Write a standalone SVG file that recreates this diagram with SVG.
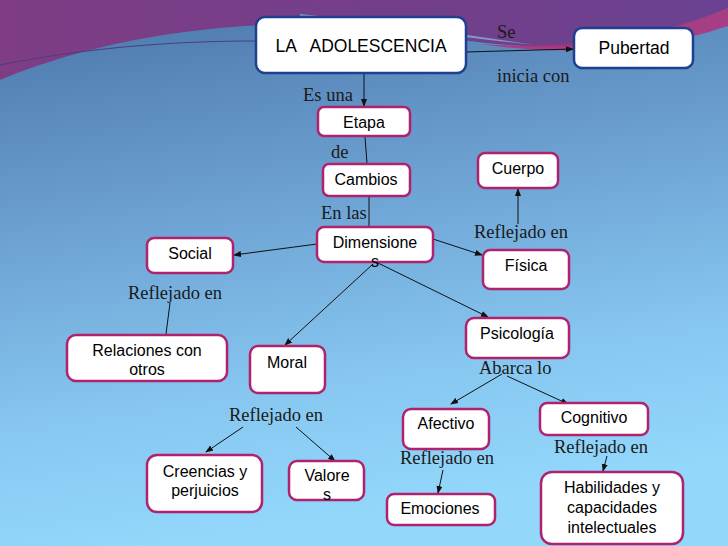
<svg xmlns="http://www.w3.org/2000/svg" width="728" height="546" viewBox="0 0 728 546">
<defs>
<linearGradient id="bg" x1="0" y1="0" x2="0.2" y2="1">
<stop offset="0" stop-color="#4a74a8"/>
<stop offset="0.4" stop-color="#6b9fd0"/>
<stop offset="0.75" stop-color="#86c6f0"/>
<stop offset="1" stop-color="#93d7fb"/>
</linearGradient>
<linearGradient id="top" x1="0" y1="0" x2="1" y2="0">
<stop offset="0" stop-color="#7e3d85"/>
<stop offset="0.6" stop-color="#723f8a"/>
<stop offset="1" stop-color="#6a4291"/>
</linearGradient>
<marker id="ah" markerWidth="8" markerHeight="8" refX="7" refY="4" orient="auto" markerUnits="userSpaceOnUse">
<path d="M0,1 L8,4 L0,7 Z" fill="#111"/>
</marker>
<style>
.n rect{fill:#fff;stroke:#b1226e;stroke-width:2.5}
.b rect{stroke:#1f3f8f}
.t{font-family:"Liberation Sans",Arial,sans-serif;font-size:16px;fill:#000;text-anchor:middle}
.l{font-family:"Liberation Serif","Times New Roman",serif;font-size:18.5px;fill:#1a1a1a}
.c line{stroke:#111;stroke-width:1}
</style>
</defs>
<rect width="728" height="546" fill="url(#bg)"/>
<path d="M0,0 H728 V8 C690,25 620,45 560,47 C480,48 420,30 330,25 C250,22 120,30 0,80 Z" fill="url(#top)"/>
<path d="M300,14 C380,22 460,34 535,45 C470,38 390,28 300,18 Z" fill="#7fb0dc" opacity="0.8"/>
<path d="M480,44 C560,50 650,40 728,8 V26 C650,52 560,56 480,44 Z" fill="#b3307a" opacity="0.85"/>
<path d="M0,65 C100,45 190,41 256,41" fill="none" stroke="#4a3d80" stroke-width="1"/>
<g class="c">
<line x1="466" y1="52" x2="573" y2="49" marker-end="url(#ah)"/>
<line x1="364" y1="73" x2="364" y2="106" marker-end="url(#ah)"/>
<line x1="365" y1="137" x2="367" y2="163" stroke="#8a2a6a"/>
<line x1="369" y1="197" x2="369" y2="227"/>
<line x1="317" y1="244" x2="234" y2="255" marker-end="url(#ah)"/>
<line x1="433" y1="239" x2="482" y2="255" marker-end="url(#ah)"/>
<line x1="518" y1="224" x2="518" y2="189" marker-end="url(#ah)"/>
<line x1="373" y1="264" x2="285" y2="345" marker-end="url(#ah)"/>
<line x1="378" y1="263" x2="488" y2="317" marker-end="url(#ah)"/>
<line x1="170" y1="303" x2="166" y2="334"/>
<line x1="502" y1="374" x2="451" y2="404" marker-end="url(#ah)"/>
<line x1="507" y1="376" x2="568" y2="404" marker-end="url(#ah)"/>
<line x1="243" y1="427" x2="206" y2="452" marker-end="url(#ah)"/>
<line x1="296" y1="427" x2="335" y2="461" marker-end="url(#ah)"/>
<line x1="443" y1="470" x2="438" y2="493" marker-end="url(#ah)"/>
<line x1="607" y1="456" x2="603" y2="471" marker-end="url(#ah)"/>
</g>
<g id="adolescencia" class="n b"><rect x="256" y="17" width="210" height="56" rx="9"/><text class="t" x="361" y="52" style="font-size:17.5px" xml:space="preserve">LA   ADOLESCENCIA</text></g>
<g id="pubertad" class="n b"><rect x="574" y="28" width="119" height="40" rx="8"/><text class="t" x="634" y="54" style="font-size:17.5px">Pubertad</text></g>
<g id="etapa" class="n"><rect x="318" y="107" width="92" height="29" rx="6"/><text class="t" x="364" y="128">Etapa</text></g>
<g id="cambios" class="n"><rect x="323" y="164" width="87" height="32" rx="6"/><text class="t" x="366" y="185">Cambios</text></g>
<g id="dimensiones" class="n"><rect x="317" y="227" width="116" height="35" rx="7"/><text class="t" x="375" y="248">Dimensione</text><text class="t" x="375" y="267">s</text></g>
<g id="social" class="n"><rect x="147" y="238" width="86" height="35" rx="7"/><text class="t" x="190" y="259">Social</text></g>
<g id="cuerpo" class="n"><rect x="478" y="153" width="80" height="35" rx="7"/><text class="t" x="518" y="174">Cuerpo</text></g>
<g id="fisica" class="n"><rect x="483" y="250" width="86" height="39" rx="7"/><text class="t" x="526" y="271">Física</text></g>
<g id="psicologia" class="n"><rect x="466" y="318" width="103" height="40" rx="8"/><text class="t" x="517" y="339">Psicología</text></g>
<g id="relaciones" class="n"><rect x="67" y="335" width="160" height="46" rx="9"/><text class="t" x="147" y="356">Relaciones con</text><text class="t" x="147" y="375">otros</text></g>
<g id="moral" class="n"><rect x="250" y="346" width="75" height="47" rx="8"/><text class="t" x="287" y="368">Moral</text></g>
<g id="afectivo" class="n"><rect x="403" y="409" width="86" height="40" rx="8"/><text class="t" x="446" y="429">Afectivo</text></g>
<g id="cognitivo" class="n"><rect x="540" y="403" width="108" height="32" rx="7"/><text class="t" x="594" y="423">Cognitivo</text></g>
<g id="creencias" class="n"><rect x="147" y="455" width="115" height="57" rx="10"/><text class="t" x="205" y="477">Creencias y</text><text class="t" x="205" y="496">perjuicios</text></g>
<g id="valores" class="n"><rect x="289" y="461" width="75" height="39" rx="8"/><text class="t" x="327" y="481">Valore</text><text class="t" x="327" y="500">s</text></g>
<g id="emociones" class="n"><rect x="387" y="494" width="108" height="31" rx="7"/><text class="t" x="440" y="514">Emociones</text></g>
<g id="habilidades" class="n"><rect x="541" y="472" width="142" height="72" rx="11"/><text class="t" x="612" y="493">Habilidades y</text><text class="t" x="612" y="513">capacidades</text><text class="t" x="612" y="533">intelectuales</text></g>
<g id="labels">
<text class="l" x="497" y="38">Se</text>
<text class="l" x="497" y="82">inicia con</text>
<text class="l" x="303" y="101">Es una</text>
<text class="l" x="331" y="158">de</text>
<text class="l" x="321" y="219">En las</text>
<text class="l" x="474" y="238">Reflejado en</text>
<text class="l" x="128" y="299">Reflejado en</text>
<text class="l" x="479" y="374">Abarca lo</text>
<text class="l" x="229" y="421">Reflejado en</text>
<text class="l" x="400" y="464">Reflejado en</text>
<text class="l" x="554" y="453">Reflejado en</text>
</g>
</svg>
